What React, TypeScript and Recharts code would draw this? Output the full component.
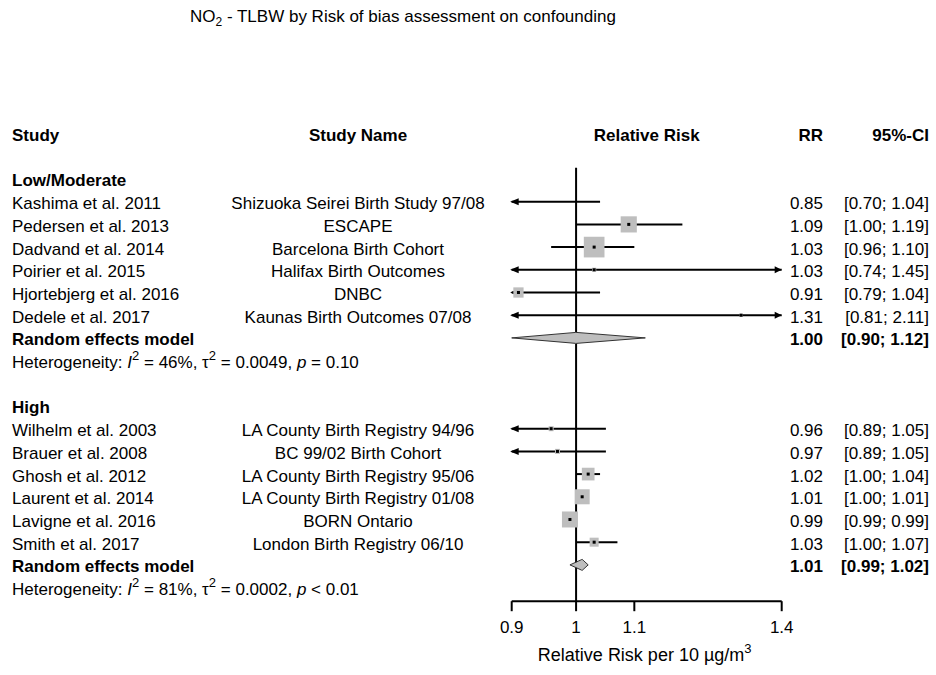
import React from 'react';
import { ScatterChart, Scatter, XAxis, YAxis, ReferenceLine } from 'recharts';

// Studies, grouped by risk-of-bias rating for confounding
const groupNames = ['Low/Moderate', 'High'];
const studies = [
  'Kashima et al. 2011',
  'Pedersen et al. 2013',
  'Dadvand et al. 2014',
  'Poirier et al. 2015',
  'Hjortebjerg et al. 2016',
  'Dedele et al. 2017',
  'Wilhelm et al. 2003',
  'Brauer et al. 2008',
  'Ghosh et al. 2012',
  'Laurent et al. 2014',
  'Lavigne et al. 2016',
  'Smith et al. 2017',
];
const cohorts = [
  'Shizuoka Seirei Birth Study 97/08',
  'ESCAPE',
  'Barcelona Birth Cohort',
  'Halifax Birth Outcomes',
  'DNBC',
  'Kaunas Birth Outcomes 07/08',
  'LA County Birth Registry 94/96',
  'BC 99/02 Birth Cohort',
  'LA County Birth Registry 95/06',
  'LA County Birth Registry 01/08',
  'BORN Ontario',
  'London Birth Registry 06/10',
];
const studyGroup = [0, 0, 0, 0, 0, 0, 1, 1, 1, 1, 1, 1];
const rr = [0.85, 1.09, 1.03, 1.03, 0.91, 1.31, 0.96, 0.97, 1.02, 1.01, 0.99, 1.03];
const ciLower = [0.7, 1.0, 0.96, 0.74, 0.79, 0.81, 0.89, 0.89, 1.0, 1.0, 0.99, 1.0];
const ciUpper = [1.04, 1.19, 1.1, 1.45, 1.04, 2.11, 1.05, 1.05, 1.04, 1.01, 0.99, 1.07];
// study weights (%), square area follows the weight
const weights = [5.8, 30.0, 49.1, 2.0, 12.1, 1.0, 2.9, 2.9, 18.5, 25.9, 29.4, 9.3];

// random effects summaries per group
const pooledRR = [1.0, 1.01];
const pooledLower = [0.9, 0.99];
const pooledUpper = [1.12, 1.02];
const hetI2 = ['46%', '81%'];
const hetTau2 = ['0.0049', '0.0002'];
const hetP = ['= 0.10', '< 0.01'];

const xTicks = [0.9, 1, 1.1, 1.4];
const X_MIN = 0.9;
const X_MAX = 1.4;

const FONT = '"Liberation Sans", Arial, Helvetica, sans-serif';
const FS = 17;
const GREY = '#bebebe';

// column anchors
const COL_STUDY = 12;
const COL_COHORT = 358;
const COL_PLOT = 646.7;
const COL_RR = 823;
const COL_CI = 929;

type Row =
  | { kind: 'header' }
  | { kind: 'group'; idx: number }
  | { kind: 'study'; idx: number }
  | { kind: 'pooled'; idx: number }
  | { kind: 'het'; idx: number };

// lay out rows: header, then per group title / studies / summary / heterogeneity / gap
const rowMap = new Map<number, Row>();
const studyRow: number[] = [];
const pooledRow: number[] = [];
rowMap.set(-3, { kind: 'header' });
let r = -1;
groupNames.forEach((_, gi) => {
  rowMap.set(r++, { kind: 'group', idx: gi });
  studies.forEach((_, i) => {
    if (studyGroup[i] === gi) {
      studyRow[i] = r;
      rowMap.set(r++, { kind: 'study', idx: i });
    }
  });
  pooledRow[gi] = r;
  rowMap.set(r++, { kind: 'pooled', idx: gi });
  rowMap.set(r++, { kind: 'het', idx: gi });
  r++;
});
const yTicks = Array.from(rowMap.keys());
const Y_MIN = -4;
const Y_MAX = r - 1.4;

const points = studies
  .map((_, i) => ({ x: rr[i], y: studyRow[i], w: weights[i] }))
  .filter((p) => p.x >= X_MIN && p.x <= X_MAX);

const clampX = (v: number) => Math.min(X_MAX, Math.max(X_MIN, v));

const StudyMarker = (props: any) => {
  const { cx, cy, payload } = props;
  const side = 2.95 * Math.sqrt(payload.w);
  return (
    <g>
      <rect x={cx - side / 2} y={cy - side / 2} width={side} height={side} fill={GREY} />
      <rect x={cx - 1.5} y={cy - 1.5} width={3} height={3} fill="#000" />
    </g>
  );
};

const ciShape = (leftOut: boolean, rightOut: boolean) => (p: any) => {
  const { x1, y1, x2 } = p;
  const a = 7;
  const h = 3.5;
  return (
    <g>
      <line x1={x1} y1={y1} x2={x2} y2={y1} stroke="#000" strokeWidth={2} />
      {leftOut && <polygon points={`${x1 - 1.5},${y1} ${x1 + a},${y1 - h} ${x1 + a},${y1 + h}`} fill="#000" />}
      {rightOut && <polygon points={`${x2},${y1} ${x2 - a},${y1 - h} ${x2 - a},${y1 + h}`} fill="#000" />}
    </g>
  );
};

// summary diamond drawn as two halves: tip -> centre and centre -> tip
const diamondHalf = (side: 'left' | 'right') => (p: any) => {
  const { x1, y1, x2 } = p;
  const h = 5.5;
  if (side === 'left') {
    return (
      <g>
        <path d={`M${x1},${y1} L${x2 + 0.5},${y1 - h} L${x2 + 0.5},${y1 + h} Z`} fill={GREY} />
        <path d={`M${x2},${y1 - h} L${x1},${y1} L${x2},${y1 + h}`} fill="none" stroke="#333" strokeWidth={1} />
      </g>
    );
  }
  return (
    <g>
      <path d={`M${x2},${y1} L${x1 - 0.5},${y1 - h} L${x1 - 0.5},${y1 + h} Z`} fill={GREY} />
      <path d={`M${x1},${y1 - h} L${x2},${y1} L${x1},${y1 + h}`} fill="none" stroke="#333" strokeWidth={1} />
    </g>
  );
};

const ci = (lo: number, hi: number) => `[${lo.toFixed(2)}; ${hi.toFixed(2)}]`;

const RowLabels = (props: any) => {
  const { y, payload } = props;
  const row = rowMap.get(payload.value);
  if (!row) return null;
  const ty = y + 1.5;
  const base = { fontFamily: FONT, fontSize: FS, fill: '#000', dy: '0.35em' };
  if (row.kind === 'header') {
    return (
      <g fontWeight="bold">
        <text {...base} x={COL_STUDY} y={ty}>Study</text>
        <text {...base} x={COL_COHORT} y={ty} textAnchor="middle">Study Name</text>
        <text {...base} x={COL_PLOT} y={ty} textAnchor="middle">Relative Risk</text>
        <text {...base} x={COL_RR} y={ty} textAnchor="end">RR</text>
        <text {...base} x={COL_CI} y={ty} textAnchor="end">95%-CI</text>
      </g>
    );
  }
  if (row.kind === 'group') {
    return (
      <text {...base} x={COL_STUDY} y={ty} fontWeight="bold">
        {groupNames[row.idx]}
      </text>
    );
  }
  if (row.kind === 'study') {
    const i = row.idx;
    return (
      <g>
        <text {...base} x={COL_STUDY} y={ty}>{studies[i]}</text>
        <text {...base} x={COL_COHORT} y={ty} textAnchor="middle">{cohorts[i]}</text>
        <text {...base} x={COL_RR} y={ty} textAnchor="end">{rr[i].toFixed(2)}</text>
        <text {...base} x={COL_CI} y={ty} textAnchor="end">{ci(ciLower[i], ciUpper[i])}</text>
      </g>
    );
  }
  if (row.kind === 'pooled') {
    const g = row.idx;
    return (
      <g fontWeight="bold">
        <text {...base} x={COL_STUDY} y={ty}>Random effects model</text>
        <text {...base} x={COL_RR} y={ty} textAnchor="end">{pooledRR[g].toFixed(2)}</text>
        <text {...base} x={COL_CI} y={ty} textAnchor="end">{ci(pooledLower[g], pooledUpper[g])}</text>
      </g>
    );
  }
  const g = row.idx;
  return (
    <text fontFamily={FONT} fontSize={FS} fill="#000" x={COL_STUDY} y={ty + 6}>
      Heterogeneity: <tspan fontStyle="italic">I</tspan>
      <tspan dy={-8} fontSize={13}>2</tspan>
      <tspan dy={8}>{` = ${hetI2[g]}, \u03c4`}</tspan>
      <tspan dy={-8} fontSize={13}>2</tspan>
      <tspan dy={8}>{` = ${hetTau2[g]}, `}</tspan>
      <tspan fontStyle="italic">p</tspan>
      <tspan>{` ${hetP[g]}`}</tspan>
    </text>
  );
};

const AxisTitle = (props: any) => {
  const { viewBox } = props;
  const cx = viewBox.x + viewBox.width / 2 - 2;
  const y = viewBox.y + 60;
  return (
    <text x={cx} y={y} textAnchor="middle" fontFamily={FONT} fontSize={18} fill="#000">
      Relative Risk per 10 µg/m
      <tspan dy={-8} fontSize={13}>3</tspan>
    </text>
  );
};

export default function App() {
  return (
    <div
      style={{
        position: 'absolute',
        left: 0,
        top: 0,
        width: 936,
        height: 675,
        background: '#fff',
        fontFamily: FONT,
      }}
    >
      <div
        style={{
          position: 'absolute',
          left: 190,
          top: 8,
          fontSize: FS,
          lineHeight: 1,
          color: '#000',
          whiteSpace: 'nowrap',
        }}
      >
        NO<span style={{ fontSize: 12, position: 'relative', top: 4 }}>2</span> - TLBW by Risk of bias assessment on
        confounding
      </div>
      <ScatterChart width={936} height={675} margin={{ top: 110.9, right: 154.3, bottom: 13.8, left: 510.7 }}>
        <XAxis
          type="number"
          dataKey="x"
          scale="log"
          domain={[X_MIN, X_MAX]}
          allowDataOverflow
          ticks={xTicks}
          interval={0}
          height={60}
          tickSize={10}
          tickMargin={10}
          axisLine={{ stroke: '#000', strokeWidth: 2 }}
          tickLine={{ stroke: '#000', strokeWidth: 2 }}
          tick={{ fill: '#000', fontSize: FS, fontFamily: FONT }}
          tickFormatter={(v: number) => String(v)}
          label={{ content: AxisTitle }}
        />
        <YAxis
          type="number"
          dataKey="y"
          domain={[Y_MIN, Y_MAX]}
          allowDataOverflow
          reversed
          ticks={yTicks}
          interval={0}
          width={1}
          axisLine={false}
          tickLine={false}
          tick={RowLabels}
        />
        <ReferenceLine
          segment={[
            { x: 1, y: -1.5 },
            { x: 1, y: Y_MAX },
          ]}
          stroke="#000"
          strokeWidth={2}
          ifOverflow="visible"
        />
        {studies.map((s, i) => (
          <ReferenceLine
            key={s}
            segment={[
              { x: clampX(ciLower[i]), y: studyRow[i] },
              { x: clampX(ciUpper[i]), y: studyRow[i] },
            ]}
            ifOverflow="visible"
            shape={ciShape(ciLower[i] < X_MIN, ciUpper[i] > X_MAX)}
          />
        ))}
        {groupNames.map((g, gi) => (
          <ReferenceLine
            key={`${g}-l`}
            segment={[
              { x: clampX(pooledLower[gi]), y: pooledRow[gi] },
              { x: pooledRR[gi], y: pooledRow[gi] },
            ]}
            ifOverflow="visible"
            shape={diamondHalf('left')}
          />
        ))}
        {groupNames.map((g, gi) => (
          <ReferenceLine
            key={`${g}-r`}
            segment={[
              { x: pooledRR[gi], y: pooledRow[gi] },
              { x: clampX(pooledUpper[gi]), y: pooledRow[gi] },
            ]}
            ifOverflow="visible"
            shape={diamondHalf('right')}
          />
        ))}
        <Scatter data={points} isAnimationActive={false} shape={StudyMarker} />
      </ScatterChart>
    </div>
  );
}
